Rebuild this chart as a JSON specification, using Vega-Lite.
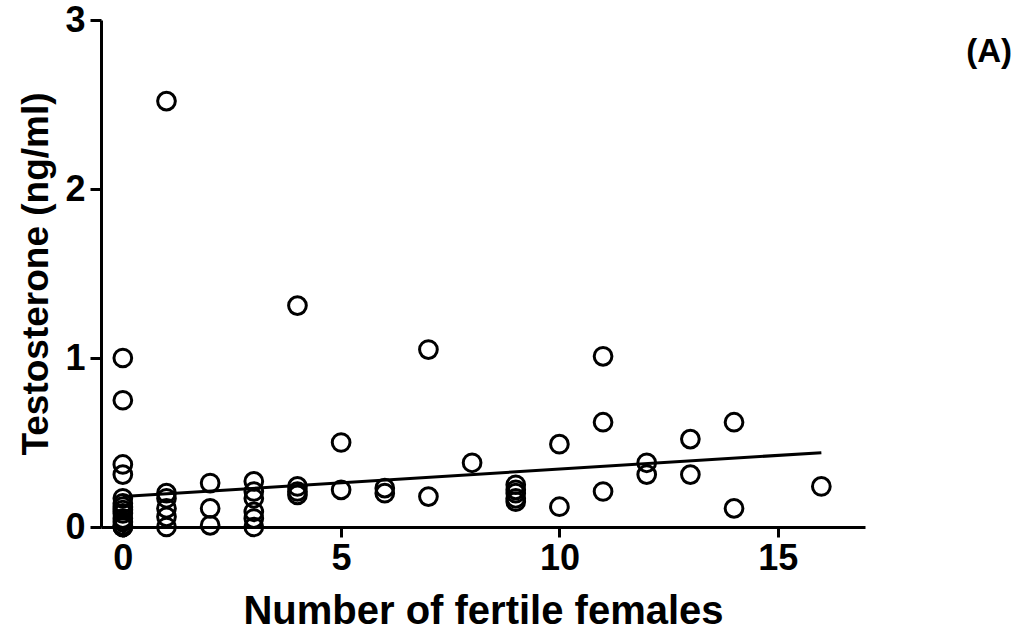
{
  "$schema": "https://vega.github.io/schema/vega-lite/v6.json",
  "width": 764,
  "height": 507,
  "autosize": {"type": "none"},
  "padding": {"left": 101, "top": 20, "right": 153, "bottom": 112},
  "background": "white",
  "config": {
    "view": {"stroke": null},
    "font": "Liberation Sans",
    "axis": {
      "grid": false,
      "domainColor": "black",
      "domainWidth": 3,
      "tickColor": "black",
      "tickWidth": 3,
      "labelColor": "black",
      "labelFont": "Liberation Sans",
      "labelFontWeight": "bold",
      "labelFontSize": 36,
      "titleColor": "black",
      "titleFont": "Liberation Sans",
      "titleFontWeight": "bold",
      "titleFontSize": 38
    }
  },
  "title": {
    "text": "(A)",
    "anchor": "end",
    "frame": "group",
    "orient": "top",
    "fontSize": 33,
    "fontWeight": "bold",
    "font": "Liberation Sans",
    "color": "black",
    "baseline": "top",
    "dx": 147,
    "dy": 71
  },
  "datasets": {
    "males": [
      {"females": 0, "testosterone": 1.0},
      {"females": 0, "testosterone": 0.75},
      {"females": 0, "testosterone": 0.37},
      {"females": 0, "testosterone": 0.31},
      {"females": 0, "testosterone": 0.17},
      {"females": 0, "testosterone": 0.14},
      {"females": 0, "testosterone": 0.12},
      {"females": 0, "testosterone": 0.1},
      {"females": 0, "testosterone": 0.08},
      {"females": 0, "testosterone": 0.05},
      {"females": 0, "testosterone": 0.03},
      {"females": 0, "testosterone": 0.01},
      {"females": 0, "testosterone": 0.0},
      {"females": 0, "testosterone": 0.0},
      {"females": 1, "testosterone": 2.52},
      {"females": 1, "testosterone": 0.2},
      {"females": 1, "testosterone": 0.17},
      {"females": 1, "testosterone": 0.11},
      {"females": 1, "testosterone": 0.06},
      {"females": 1, "testosterone": 0.0},
      {"females": 2, "testosterone": 0.26},
      {"females": 2, "testosterone": 0.11},
      {"females": 2, "testosterone": 0.01},
      {"females": 3, "testosterone": 0.27},
      {"females": 3, "testosterone": 0.21},
      {"females": 3, "testosterone": 0.17},
      {"females": 3, "testosterone": 0.09},
      {"females": 3, "testosterone": 0.05},
      {"females": 3, "testosterone": 0.0},
      {"females": 4, "testosterone": 1.31},
      {"females": 4, "testosterone": 0.24},
      {"females": 4, "testosterone": 0.21},
      {"females": 4, "testosterone": 0.19},
      {"females": 5, "testosterone": 0.5},
      {"females": 5, "testosterone": 0.22},
      {"females": 6, "testosterone": 0.23},
      {"females": 6, "testosterone": 0.2},
      {"females": 7, "testosterone": 1.05},
      {"females": 7, "testosterone": 0.18},
      {"females": 8, "testosterone": 0.38},
      {"females": 9, "testosterone": 0.25},
      {"females": 9, "testosterone": 0.22},
      {"females": 9, "testosterone": 0.2},
      {"females": 9, "testosterone": 0.17},
      {"females": 9, "testosterone": 0.15},
      {"females": 10, "testosterone": 0.49},
      {"females": 10, "testosterone": 0.12},
      {"females": 11, "testosterone": 1.01},
      {"females": 11, "testosterone": 0.62},
      {"females": 11, "testosterone": 0.21},
      {"females": 12, "testosterone": 0.38},
      {"females": 12, "testosterone": 0.31},
      {"females": 13, "testosterone": 0.52},
      {"females": 13, "testosterone": 0.31},
      {"females": 14, "testosterone": 0.62},
      {"females": 14, "testosterone": 0.11},
      {"females": 16, "testosterone": 0.24}
    ],
    "fit": [
      {"females": 0, "testosterone": 0.18},
      {"females": 16, "testosterone": 0.44}
    ]
  },
  "encoding": {
    "x": {
      "field": "females",
      "type": "quantitative",
      "scale": {"domain": [-0.5, 17], "nice": false, "zero": false},
      "axis": {
        "values": [0, 5, 10, 15],
        "tickSize": 10,
        "labelPadding": 4,
        "title": "Number of fertile females",
        "titleFontSize": 40,
        "titlePadding": 15
      }
    },
    "y": {
      "field": "testosterone",
      "type": "quantitative",
      "scale": {"domain": [0, 3], "nice": false},
      "axis": {
        "values": [0, 1, 2, 3],
        "tickSize": 11,
        "labelPadding": 5,
        "title": "Testosterone (ng/ml)",
        "titleFontSize": 37,
        "titlePadding": 9
      }
    }
  },
  "layer": [
    {
      "data": {"name": "males"},
      "mark": {
        "type": "point",
        "shape": "circle",
        "filled": false,
        "stroke": "black",
        "strokeWidth": 3,
        "size": 314,
        "opacity": 1,
        "clip": false
      }
    },
    {
      "data": {"name": "fit"},
      "mark": {"type": "line", "color": "black", "strokeWidth": 3, "clip": false}
    }
  ]
}
